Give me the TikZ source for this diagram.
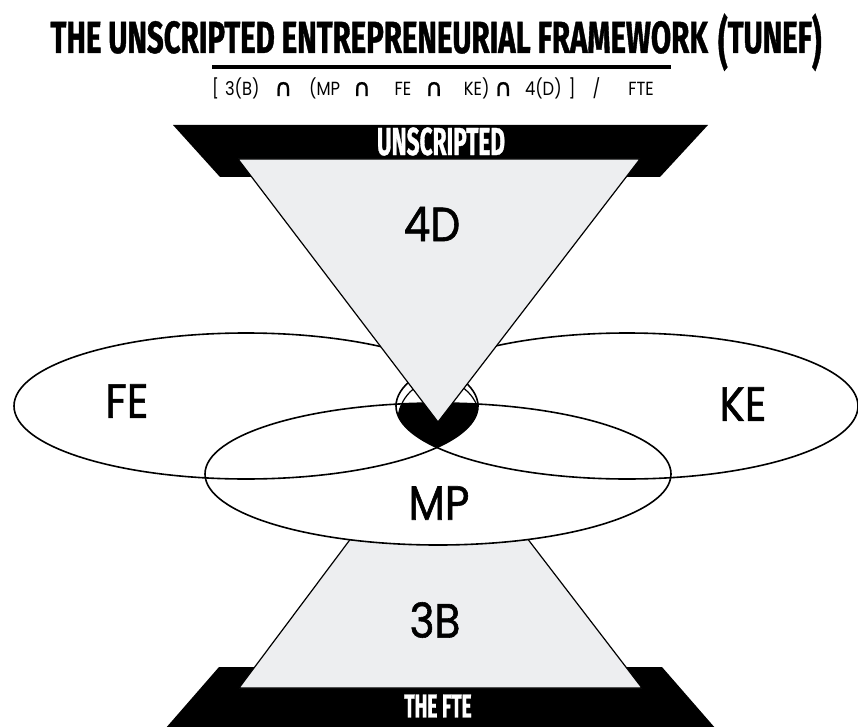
\documentclass[tikz,border=0pt]{standalone}
\usepackage{fontspec}
\setmainfont{Poppins}
\newfontfamily\labelfont[FakeStretch=0.88,FakeBold=1.2]{Poppins}
\newfontfamily\formfont[FakeStretch=0.86]{Poppins}
\newfontfamily\condfont[FakeStretch=0.58,FakeBold=0.8]{Fira Sans}
\newfontfamily\symfont[FakeBold=1]{DejaVu Sans}
\definecolor{shade}{HTML}{EDEEF0}
\tikzset{
  lbl/.style={font=\labelfont\fontsize{48}{48}\selectfont, inner sep=0pt},
  bartxt/.style={font=\condfont\bfseries\fontsize{39}{39}\selectfont, text=white, inner sep=0pt},
  ring/.style={line width=1.6pt},
  funnel/.style={draw, line width=1.2pt, fill=shade, line join=miter}
}
\newcommand{\capsym}{{\symfont\fontsize{24}{24}\selectfont ∩}}
\newcommand{\tallparen}[1]{\smash{\raisebox{-2pt}{\scalebox{1}[1.25]{#1}}}}
\begin{document}
\begin{tikzpicture}[x=1pt,y=-1pt]
\useasboundingbox (0,0) rectangle (858,727);

% heading
\node[anchor=base, inner sep=0pt] (title) at (436,53) {\resizebox{771pt}{32pt}{\condfont\bfseries THE UNSCRIPTED ENTREPRENEURIAL FRAMEWORK\hspace{0.2em}\tallparen{(}TUNEF\tallparen{)}}};
\draw[line width=3.5pt] (212,67) -- (671,67);
\node[font=\formfont\fontsize{19}{19}\selectfont, anchor=base west, inner sep=0pt] (formula) at (212,96) {[\hspace{6pt}3(B)\hspace{15pt}\capsym\hspace{17pt}(MP\hspace{13pt}\capsym\hspace{24pt}FE\hspace{14pt}\capsym\hspace{21pt}KE)\hspace{5pt}\capsym\hspace{13pt}4(D)\hspace{7pt}]\hspace{17pt}/\hspace{28pt}FTE};

% black bars
\fill (173,125) -- (708,125) -- (660,177) -- (220,177) -- cycle;
\fill (219,667) -- (662,667) -- (716,729) -- (165,729) -- cycle;

% lower funnel, hidden under MP
\coordinate (apex) at (438,422);
\draw[funnel] (apex) -- (642,688) -- (239,688) -- cycle;
\fill[white] (438,474) ellipse [x radius=233pt, y radius=71pt];

% the three rings
\draw[ring] (246,406) ellipse [x radius=232pt, y radius=73pt];
\draw[ring] (627,406) ellipse [x radius=231pt, y radius=73pt];
\draw[ring] (438,474) ellipse [x radius=233pt, y radius=71pt];

% centre where all meet
\begin{scope}
\clip (246,406) ellipse [x radius=232pt, y radius=73pt];
\clip (627,406) ellipse [x radius=231pt, y radius=73pt];
\clip (438,474) ellipse [x radius=233pt, y radius=71pt];
\fill (439,421) circle [radius=41pt];
\end{scope}
\begin{scope}
\clip (246,406) ellipse [x radius=232pt, y radius=73pt];
\clip (627,406) ellipse [x radius=231pt, y radius=73pt];
\draw[line width=1.2pt] (439,421) circle [radius=41pt];
\end{scope}

% upper funnel
\draw[funnel] (238,159) -- (640,159) -- (apex) -- cycle;

\node[bartxt] (unscripted) at (441,141.5) {UNSCRIPTED};
\node[bartxt, font=\condfont\bfseries\fontsize{33}{33}\selectfont] (fte) at (438,706) {THE FTE};

\node[lbl] (d4) at (432,224) {4D};
\node[lbl] (fe) at (127,401) {FE};
\node[lbl] (ke) at (743,404) {KE};
\node[lbl] (mp) at (439,503) {MP};
\node[lbl] (b3) at (435,620) {3B};
\end{tikzpicture}
\end{document}
